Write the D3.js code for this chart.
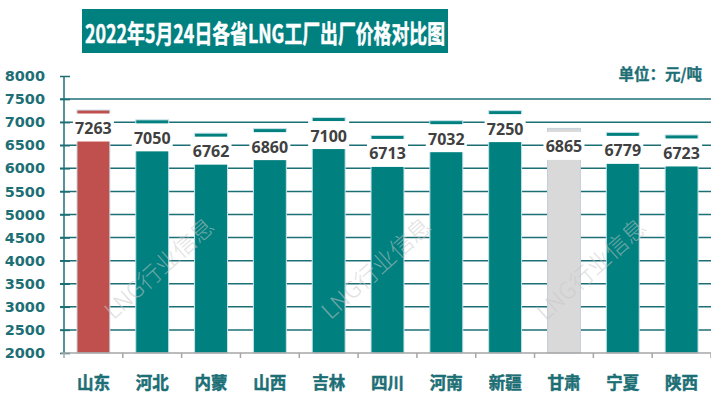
<!DOCTYPE html>
<html>
<head>
<meta charset="utf-8">
<script src="https://cdn.jsdelivr.net/npm/d3@7"></script>
<style>
  body { margin: 0; background: #fff; }
  svg { display: block; }
</style>
</head>
<body>
<div id="chart"></div>
<script>
// data
var provinces = ["山东", "河北", "内蒙", "山西", "吉林", "四川", "河南", "新疆", "甘肃", "宁夏", "陕西"];
var prices = [7263, 7050, 6762, 6860, 7100, 6713, 7032, 7250, 6865, 6779, 6723];
var yTicks = [2000, 2500, 3000, 3500, 4000, 4500, 5000, 5500, 6000, 6500, 7000, 7500, 8000];
var titleText = "2022年5月24日各省LNG工厂出厂价格对比图";
var unitText = "单位：元/吨";
var watermarkText = "LNG行业信息";

var svgWidth = 711;
var svgHeight = 393;

var margin = { top: 76, right: 0, bottom: 40, left: 64 };
var width = svgWidth - margin.left - margin.right;
var height = svgHeight - margin.top - margin.bottom;

var teal = "#00807f";
var gridColor = "#1d6f76";
var cjk = "'Noto Sans CJK SC', 'Noto Sans', sans-serif";

var svg = d3.select("#chart")
  .append("svg")
  .attr("width", svgWidth)
  .attr("height", svgHeight);

// title box
svg.append("rect")
  .attr("x", 82).attr("y", 9)
  .attr("width", 366).attr("height", 44)
  .attr("fill", teal);

svg.append("text")
  .attr("x", 85).attr("y", 32)
  .attr("dominant-baseline", "central")
  .attr("textLength", 360)
  .attr("lengthAdjust", "spacingAndGlyphs")
  .attr("font-family", cjk)
  .attr("font-weight", "bold")
  .attr("font-size", "25px")
  .attr("fill", "#fff")
  .attr("stroke", "#fff")
  .attr("stroke-width", 0.5)
  .text(titleText);

svg.append("text")
  .attr("x", 702).attr("y", 73)
  .attr("text-anchor", "end")
  .attr("dominant-baseline", "central")
  .attr("font-family", cjk)
  .attr("font-weight", "bold")
  .attr("font-size", "15.5px")
  .attr("fill", gridColor)
  .attr("stroke", gridColor)
  .attr("stroke-width", 0.3)
  .text(unitText);

var chartGroup = svg.append("g")
  .attr("transform", `translate(${margin.left}, ${margin.top})`);

var xBandScale = d3.scaleBand()
  .domain(provinces)
  .range([0, width])
  .paddingInner(0.44)
  .paddingOuter(0.22);

var yLinearScale = d3.scaleLinear()
  .domain([2000, 8000])
  .range([height, 0]);

// gridlines (not at the bottom or top)
chartGroup.append("g")
  .selectAll("line")
  .data(yTicks.filter(d => d > 2000 && d < 8000))
  .enter()
  .append("line")
  .attr("x1", -4)
  .attr("x2", width)
  .attr("y1", d => yLinearScale(d))
  .attr("y2", d => yLinearScale(d))
  .attr("stroke", gridColor)
  .attr("stroke-width", 1.5);

// y axis
var leftAxis = d3.axisLeft(yLinearScale)
  .tickValues(yTicks)
  .tickFormat(d3.format("d"))
  .tickSize(4)
  .tickPadding(15);

var yAxis = chartGroup.append("g").call(leftAxis);
yAxis.select(".domain").attr("stroke", gridColor).attr("stroke-width", 1.5).attr("d", `M0,${height}V0`);
yAxis.selectAll(".tick line").attr("stroke", gridColor).attr("stroke-width", 1.5).attr("x2", -4).attr("x1", 6);
yAxis.selectAll(".tick text")
  .attr("fill", gridColor)
  .attr("font-family", "'DejaVu Sans', sans-serif")
  .attr("font-weight", "bold")
  .attr("font-size", "14.5px");

// bars
function barColor(p) {
  if (p === "山东") return "#c0504d";
  if (p === "甘肃") return "#d9d9d9";
  return teal;
}

chartGroup.selectAll(".bar")
  .data(provinces)
  .enter()
  .append("rect")
  .attr("class", "bar")
  .attr("x", d => xBandScale(d))
  .attr("y", (d, i) => yLinearScale(prices[i]))
  .attr("width", xBandScale.bandwidth())
  .attr("height", (d, i) => height - yLinearScale(prices[i]))
  .attr("fill", d => barColor(d))
  .attr("stroke", d => d === "甘肃" ? "#c3cfdc" : "#c9e3ea")
  .attr("stroke-width", 1);

// x axis
chartGroup.append("line")
  .attr("x1", -3).attr("x2", width)
  .attr("y1", height).attr("y2", height)
  .attr("stroke", "#a6a6a6")
  .attr("stroke-width", 1.5);

chartGroup.append("g")
  .selectAll("line")
  .data(d3.range(provinces.length + 1))
  .enter()
  .append("line")
  .attr("x1", i => i * width / provinces.length)
  .attr("x2", i => i * width / provinces.length)
  .attr("y1", height)
  .attr("y2", height + 5)
  .attr("stroke", "#a6a6a6")
  .attr("stroke-width", 1.5);

chartGroup.selectAll(".cat")
  .data(provinces)
  .enter()
  .append("text")
  .attr("class", "cat")
  .attr("x", d => xBandScale(d) + xBandScale.bandwidth() / 2)
  .attr("y", height + 29)
  .attr("text-anchor", "middle")
  .attr("dominant-baseline", "central")
  .attr("font-family", cjk)
  .attr("font-weight", "bold")
  .attr("font-size", "16.5px")
  .attr("fill", gridColor)
  .attr("stroke", gridColor)
  .attr("stroke-width", 0.5)
  .text(d => d);

// value labels with white box
var labelGroup = chartGroup.selectAll(".lbl")
  .data(provinces)
  .enter()
  .append("g")
  .attr("class", "lbl")
  .attr("transform", (d, i) => `translate(${xBandScale(d) + xBandScale.bandwidth() / 2}, ${yLinearScale(prices[i])})`);

labelGroup.append("rect")
  .attr("x", -20.5)
  .attr("y", 3.5)
  .attr("width", 41)
  .attr("height", 28)
  .attr("fill", "#fff");

labelGroup.append("text")
  .attr("y", 18)
  .attr("text-anchor", "middle")
  .attr("dominant-baseline", "central")
  .attr("font-family", "'Open Sans', sans-serif")
  .attr("font-weight", "bold")
  .attr("font-size", "16px")
  .attr("fill", "#404040")
  .text((d, i) => prices[i]);

// watermarks
[[158, 267], [375, 267], [590, 268]].forEach(function(pos) {
  svg.append("text")
    .attr("transform", `translate(${pos[0]}, ${pos[1]}) rotate(-42)`)
    .attr("text-anchor", "middle")
    .attr("dominant-baseline", "central")
    .attr("font-family", cjk)
    .attr("font-weight", 300)
    .attr("font-size", "23px")
    .attr("textLength", 138)
    .attr("lengthAdjust", "spacingAndGlyphs")
    .attr("fill", "#c8c8c8")
    .attr("opacity", 0.55)
    .text(watermarkText);
});
</script>
</body>
</html>
